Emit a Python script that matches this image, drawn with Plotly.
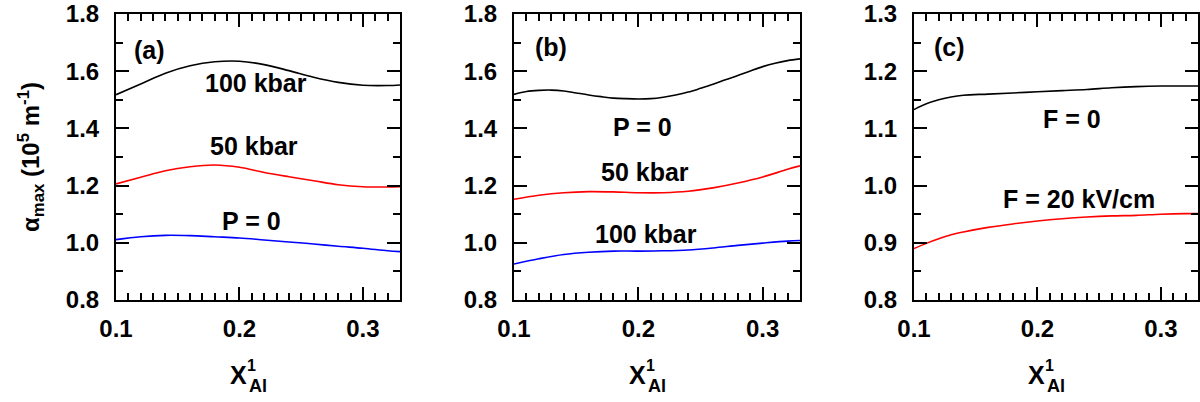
import plotly.graph_objects as go

# ---------------- data ----------------
x_grid = [0.10, 0.12, 0.14, 0.16, 0.18, 0.20, 0.22, 0.24, 0.26, 0.28, 0.30, 0.32, 0.33]

# panel (a)
a_100kbar = [1.518, 1.555, 1.593, 1.619, 1.633, 1.635, 1.623, 1.602, 1.579, 1.561, 1.551, 1.550, 1.552]
a_50kbar = [1.206, 1.229, 1.252, 1.266, 1.272, 1.264, 1.246, 1.231, 1.217, 1.203, 1.196, 1.195, 1.196]
a_p0 = [1.011, 1.021, 1.026, 1.025, 1.021, 1.017, 1.010, 1.003, 0.996, 0.988, 0.981, 0.972, 0.969]

# panel (b)
b_x = [0.10, 0.11, 0.12, 0.13, 0.14, 0.15, 0.16, 0.17, 0.18, 0.19, 0.20, 0.21, 0.22,
       0.23, 0.24, 0.25, 0.26, 0.27, 0.28, 0.29, 0.30, 0.31, 0.32, 0.33]
b_p0 = [1.519, 1.529, 1.533, 1.534, 1.531, 1.524, 1.517, 1.511, 1.506, 1.504, 1.503, 1.504, 1.509,
        1.517, 1.527, 1.540, 1.554, 1.570, 1.585, 1.601, 1.616, 1.628, 1.637, 1.643]
b_50kbar_x = [0.10, 0.12, 0.14, 0.16, 0.18, 0.20, 0.22, 0.24, 0.26, 0.28, 0.30, 0.32, 0.33]
b_50kbar = [1.152, 1.166, 1.175, 1.179, 1.178, 1.175, 1.175, 1.180, 1.192, 1.209, 1.230, 1.257, 1.269]
b_100kbar = [0.926, 0.944, 0.959, 0.967, 0.971, 0.971, 0.972, 0.975, 0.982, 0.991, 0.999, 1.006, 1.008]

# panel (c)
c_x = [0.10, 0.11, 0.12, 0.13, 0.14, 0.16, 0.18, 0.20, 0.22, 0.24, 0.26, 0.28, 0.30, 0.32, 0.33]
c_f0 = [1.133, 1.143, 1.150, 1.155, 1.158, 1.160, 1.162, 1.164, 1.166, 1.168, 1.171, 1.173, 1.174, 1.174, 1.174]
c_f20 = [0.890, 0.899, 0.907, 0.914, 0.919, 0.927, 0.933, 0.938, 0.942, 0.945, 0.947, 0.948, 0.950, 0.951, 0.951]

x_ticks = [0.1, 0.2, 0.3]
x_tick_text = ["0.1", "0.2", "0.3"]
ab_y_ticks = [0.8, 1.0, 1.2, 1.4, 1.6, 1.8]
ab_y_text = ["0.8", "1.0", "1.2", "1.4", "1.6", "1.8"]
c_y_ticks = [0.8, 0.9, 1.0, 1.1, 1.2, 1.3]
c_y_text = ["0.8", "0.9", "1.0", "1.1", "1.2", "1.3"]

# ---------------- figure ----------------
FONT = "Liberation Sans, Arial, Helvetica, sans-serif"
BLACK, RED, BLUE = "#000000", "#ff0000", "#0000ff"
LW = 1.6

fig = go.Figure()

def line(x, y, color, xa, ya):
    fig.add_trace(go.Scatter(x=x, y=y, mode="lines", line=dict(color=color, width=LW, shape="spline"),
                             xaxis=xa, yaxis=ya, showlegend=False, hoverinfo="skip"))

line(x_grid, a_100kbar, BLACK, "x", "y")
line(x_grid, a_50kbar, RED, "x", "y")
line(x_grid, a_p0, BLUE, "x", "y")
line(b_x, b_p0, BLACK, "x2", "y2")
line(b_50kbar_x, b_50kbar, RED, "x2", "y2")
line(x_grid, b_100kbar, BLUE, "x2", "y2")
line(c_x, c_f0, BLACK, "x3", "y3")
line(c_x, c_f20, RED, "x3", "y3")

W, H = 1200, 402
y_dom = [1 - 300 / H, 1 - 14 / H]
x_doms = [[116 / W, 400 / W], [514 / W, 800 / W], [914 / W, 1198 / W]]

tickfont = dict(family=FONT, size=24, color="black", weight="bold")

def xaxis(dom, anchor):
    return dict(domain=dom, anchor=anchor, range=[0.1, 0.33], tickvals=x_ticks, ticktext=x_tick_text,
                ticks="inside", ticklen=13, tickwidth=2, tickcolor="black",
                minor=dict(dtick=0.01, tick0=0.1, ticks="inside", ticklen=7, tickwidth=1.5, tickcolor="black"),
                showline=True, linewidth=2, linecolor="black", mirror="allticks",
                showgrid=False, zeroline=False, tickfont=tickfont, ticklabelstandoff=6,
                automargin=False)

def yaxis(dom, anchor, rng, tv, tt, minor_dt):
    return dict(domain=dom, anchor=anchor, range=rng, tickvals=tv, ticktext=tt,
                ticks="inside", ticklen=13, tickwidth=2, tickcolor="black",
                minor=dict(dtick=minor_dt, tick0=0.8, ticks="inside", ticklen=7, tickwidth=2, tickcolor="black"),
                showline=True, linewidth=2, linecolor="black", mirror="allticks",
                showgrid=False, zeroline=False, tickfont=tickfont, ticklabelstandoff=10,
                automargin=False)

fig.update_layout(
    template="none",
    width=W, height=H, margin=dict(l=0, r=0, t=0, b=0, autoexpand=False),
    paper_bgcolor="white", plot_bgcolor="white",
    font=dict(family=FONT, color="black", weight="bold"),
    xaxis=xaxis(x_doms[0], "y"),
    xaxis2=xaxis(x_doms[1], "y2"),
    xaxis3=xaxis(x_doms[2], "y3"),
    yaxis=yaxis(y_dom, "x", [0.8, 1.8], ab_y_ticks, ab_y_text, 0.1),
    yaxis2=yaxis(y_dom, "x2", [0.8, 1.8], ab_y_ticks, ab_y_text, 0.1),
    yaxis3=yaxis(y_dom, "x3", [0.8, 1.3], c_y_ticks, c_y_text, 0.05),
)

def label(text, x, y, xref, yref, size=25):
    fig.add_annotation(text=text, x=x, y=y, xref=xref, yref=yref, showarrow=False,
                       xanchor="center", yanchor="middle",
                       font=dict(family=FONT, size=size, color="black", weight="bold"))

# panel labels and curve labels
label("(a)", 0.1275, 1.674, "x", "y")
label("100 kbar", 0.2134, 1.558, "x", "y")
label("50 kbar", 0.2117, 1.339, "x", "y")
label("P = 0", 0.210, 1.0754, "x", "y")

label("(b)", 0.130, 1.684, "x2", "y2")
label("P = 0", 0.203, 1.405, "x2", "y2")
label("50 kbar", 0.205, 1.246, "x2", "y2")
label("100 kbar", 0.206, 1.032, "x2", "y2")

label("(c)", 0.129, 1.242, "x3", "y3")
label("F = 0", 0.228, 1.1167, "x3", "y3")
label("F = 20 kV/cm", 0.2336, 0.977, "x3", "y3")

# x-axis titles: X with stacked superscript 1 and subscript Al
for xr in ["x", "x2", "x3"]:
    label("X", 0.1995, 1 - 375 / H, xr, "paper", size=25)
    label("1", 0.2097, 1 - 365 / H, xr, "paper", size=16)
    label("Al", 0.2150, 1 - 386 / H, xr, "paper", size=18)

# y-axis title
fig.add_annotation(text="α<sub>max</sub> (10<sup>5</sup> m<sup>-1</sup>)", x=31 / W, y=1 - 157 / H,
                   xref="paper", yref="paper", showarrow=False, textangle=-90,
                   xanchor="center", yanchor="middle",
                   font=dict(family=FONT, size=24, color="black", weight="bold"))

fig.write_html("out.html", config={"displayModeBar": False},
               post_script="document.body.style.margin='0';document.body.style.overflow='hidden';")
